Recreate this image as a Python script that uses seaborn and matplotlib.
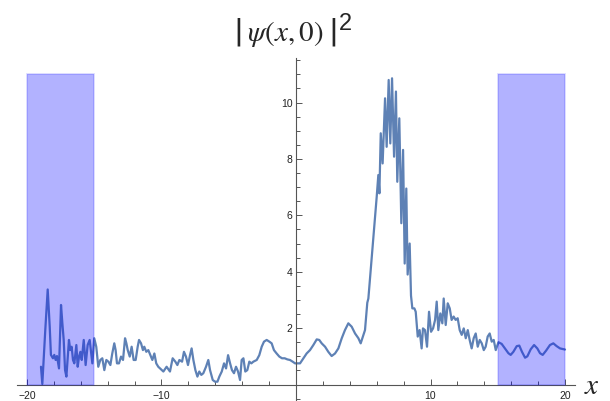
import numpy as np
import pandas as pd
import seaborn as sns
import matplotlib
matplotlib.use("Agg")
import matplotlib.pyplot as plt
from matplotlib.patches import Rectangle
from matplotlib.ticker import FixedLocator, MultipleLocator

# |psi(x,0)|^2 sampled along x
x_vals = [
    -18.96, -18.86, -18.64, -18.46, -18.31, -18.22, -18.07, -17.97, -17.87, -17.77,
    -17.62, -17.47, -17.37, -17.27, -17.17, -17.07, -16.97, -16.88, -16.78, -16.68,
    -16.58, -16.48, -16.33, -16.23, -16.13, -16.03, -15.93, -15.78, -15.64, -15.49,
    -15.34, -15.24, -15.14, -15.00, -14.85, -14.70, -14.55, -14.40, -14.25, -14.10,
    -13.95, -13.80, -13.66, -13.51, -13.41, -13.31, -13.16, -13.01, -12.86, -12.71,
    -12.61, -12.51, -12.36, -12.22, -12.07, -11.92, -11.77, -11.67, -11.52, -11.38,
    -11.28, -11.13, -10.98, -10.83, -10.68, -10.53, -10.39, -10.24,
    -10.11, -9.86, -9.62, -9.37, -9.17, -8.97, -8.82, -8.67, -8.47, -8.33,
    -8.18, -8.03, -7.88, -7.76, -7.63, -7.48, -7.33, -7.19, -7.04, -6.89,
    -6.69, -6.52, -6.39, -6.19, -6.02, -5.84, -5.70, -5.52, -5.35, -5.20,
    -5.05, -4.90, -4.76, -4.61, -4.46, -4.31, -4.16, -4.04, -3.91, -3.77,
    -3.62, -3.47, -3.32, -3.17, -2.92, -2.73, -2.55, -2.38, -2.18, -1.98,
    -1.81, -1.64, -1.44, -1.24, -1.04, -0.84, -0.64, -0.45, -0.25, -0.07,
    0.30, 0.55, 0.79, 1.04, 1.29, 1.54, 1.73, 1.91, 2.16, 2.40,
    2.65, 2.90, 3.15, 3.40, 3.64, 3.89, 4.14, 4.39, 4.64, 4.81,
    5.01, 5.13, 5.30, 5.38,
    6.00, 6.12, 6.20, 6.30, 6.44, 6.62, 6.74, 6.89, 7.01, 7.14,
    7.29, 7.43, 7.53, 7.68, 7.83, 7.96, 8.08, 8.20, 8.30, 8.45,
    8.55, 8.65, 8.80, 8.90, 9.05, 9.19, 9.34, 9.44, 9.59, 9.74,
    9.89, 10.04, 10.19, 10.34, 10.46, 10.58, 10.73, 10.88, 10.98, 11.13,
    11.28, 11.43, 11.57, 11.72, 11.87, 12.02, 12.17, 12.32, 12.47, 12.62,
    12.77, 12.91, 13.06, 13.21, 13.36, 13.51, 13.66, 13.81, 13.96, 14.10,
    14.25, 14.40, 14.55, 14.70, 14.85, 15.05,
    15.29, 15.53, 15.79, 15.96, 16.16, 16.41, 16.60, 16.80, 17.03, 17.20,
    17.45, 17.70, 17.94, 18.14, 18.34, 18.59, 18.88, 19.13, 19.38, 19.63,
    20.00,
]
psi_sq = [
    0.63, 0.02, 1.93, 3.37, 2.05, 1.05, 0.93, 1.05, 0.87, 1.01,
    0.57, 2.82, 2.17, 1.58, 0.51, 0.28, 0.99, 1.58, 1.22, 1.34,
    0.87, 0.75, 1.40, 0.63, 0.99, 1.16, 0.87, 1.58, 0.69, 1.40,
    1.58, 1.16, 0.75, 1.64, 1.34, 0.63, 0.87, 0.93, 0.51, 0.87,
    0.81, 0.69, 1.10, 1.46, 1.22, 0.75, 0.75, 0.99, 0.87, 1.64,
    1.46, 1.22, 0.99, 1.34, 0.87, 0.87, 1.34, 1.58, 1.46, 1.22,
    1.34, 1.16, 1.22, 1.05, 0.87, 1.10, 0.75, 0.63,
    0.57, 0.46, 0.63, 0.46, 0.93, 0.81, 0.69, 0.87, 0.81, 1.16,
    0.99, 0.69, 1.04, 1.28, 0.87, 0.51, 0.28, 0.46, 0.34, 0.40,
    0.63, 0.87, 0.51, 0.16, 0.10, 0.10, 0.28, 0.46, 0.75, 0.57,
    1.04, 0.75, 0.51, 0.40, 0.63, 0.46, 0.16, 0.87, 0.93, 0.46,
    0.51, 0.81, 0.75, 0.81, 0.87, 1.04, 1.34, 1.52, 1.58, 1.52,
    1.46, 1.22, 1.10, 0.99, 0.93, 0.93, 0.89, 0.87, 0.81, 0.75,
    0.75, 0.93, 1.10, 1.22, 1.40, 1.60, 1.58, 1.46, 1.34, 1.16,
    1.01, 1.10, 1.28, 1.64, 1.93, 2.17, 2.05, 1.81, 1.64, 1.46,
    1.76, 1.93, 2.90, 3.05,
    6.66, 7.43, 6.78, 8.91, 7.84, 10.15, 8.43, 10.80, 8.55, 10.86,
    8.08, 10.39, 7.19, 9.44, 5.72, 8.32, 4.29, 6.95, 3.90, 5.00,
    3.15, 2.70, 2.70, 2.58, 1.70, 1.93, 1.28, 1.99, 1.93, 1.34,
    2.58, 1.87, 1.99, 2.29, 2.94, 1.93, 2.52, 2.17, 3.05, 2.11,
    2.88, 2.70, 2.29, 2.41, 2.29, 2.35, 1.93, 1.76, 1.99, 1.64,
    1.93, 1.58, 1.28, 1.64, 1.81, 1.34, 1.58, 1.46, 1.22, 1.34,
    1.70, 1.81, 1.52, 1.58, 1.22, 1.50,
    1.44, 1.28, 1.11, 1.05, 1.16, 1.36, 1.38, 1.16, 0.95, 1.00,
    1.25, 1.40, 1.28, 1.11, 1.05, 1.20, 1.40, 1.46, 1.36, 1.28,
    1.24,
]

# shaded absorbing regions: (x start, x end, height)
region_x0 = [-20, 15]
region_x1 = [-15, 20]
region_h = [11, 11]

x_ticks = [-20, -10, 10, 20]
y_ticks = [2, 4, 6, 8, 10]

sns.set_style("white")
plt.rcParams["font.family"] = ["Liberation Sans", "DejaVu Sans"]
plt.rcParams["mathtext.fontset"] = "stix"

df = pd.DataFrame({"x": x_vals, "psi2": psi_sq})

fig = plt.figure(figsize=(6.10, 4.01), dpi=100)
ax = fig.add_axes([0.0277, 0.0, 0.9151, 0.8554])

sns.lineplot(data=df, x="x", y="psi2", color="#5E81B5", lw=1.6,
             estimator=None, sort=False, ax=ax, zorder=2)

for x0, x1, h in zip(region_x0, region_x1, region_h):
    ax.add_patch(Rectangle((x0, 0), x1 - x0, h,
                           facecolor=(0, 0, 1, 0.3),
                           edgecolor=(0, 0, 1, 0.16), lw=1.2, zorder=3))

ax.set_xlim(-20.75, 20.75)
ax.set_ylim(-0.585, 11.58)
ax.set_xlabel("")
ax.set_ylabel("")

for side in ("top", "right"):
    ax.spines[side].set_visible(False)
for side in ("left", "bottom"):
    ax.spines[side].set_position(("data", 0))
    ax.spines[side].set_color("#555555")
    ax.spines[side].set_linewidth(0.8)

ax.xaxis.set_major_locator(FixedLocator(x_ticks))
ax.xaxis.set_minor_locator(MultipleLocator(2))
ax.yaxis.set_major_locator(FixedLocator(y_ticks))
ax.yaxis.set_minor_locator(MultipleLocator(0.5))

ax.tick_params(axis="both", which="both", direction="in", color="#555555",
               labelsize=7.5, labelcolor="#222222", width=0.7,
               bottom=True, left=True, top=False, right=False)
ax.tick_params(axis="both", which="major", length=4.2)
ax.tick_params(axis="both", which="minor", length=2.6)
ax.tick_params(axis="x", which="major", pad=4.5)
ax.tick_params(axis="y", which="major", pad=2.5)

fig.text(285 / 610, (401 - 32.5) / 401, r"$\left|\;\psi(x,0)\;\right|$",
         fontsize=21, ha="center", va="center")
fig.text(345.5 / 610, (401 - 24) / 401, "2", fontsize=17,
         ha="center", va="center", family=["Liberation Sans", "DejaVu Sans"])
fig.text(591.5 / 610, (401 - 386.5) / 401, r"$x$", fontsize=21,
         ha="center", va="center")

fig.savefig("out.png", dpi=100)
